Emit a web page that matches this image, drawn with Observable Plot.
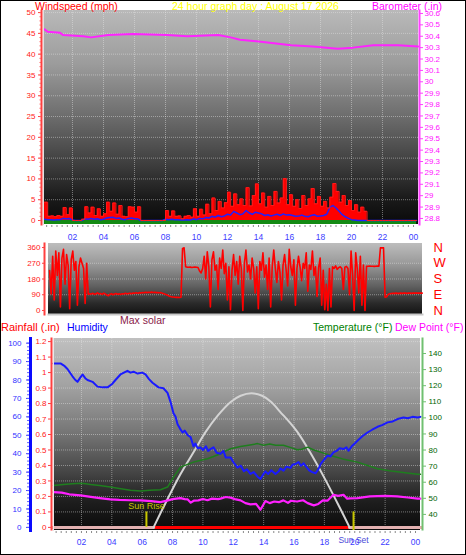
<!DOCTYPE html>
<html><head><meta charset="utf-8">
<script src="https://cdn.jsdelivr.net/npm/d3@7"></script>
<script src="https://cdn.jsdelivr.net/npm/@observablehq/plot@0.6"></script>
<style>
body{margin:0;background:#fff;}
#wrap{position:relative;width:466px;height:555px;overflow:hidden;font-family:"Liberation Sans",Arial,sans-serif;background:#fff;}
#border{position:absolute;left:0;top:0;width:464px;height:553px;border:1px solid #000;pointer-events:none;z-index:10;}
.lbl{position:absolute;white-space:nowrap;font-size:10.5px;line-height:12px;z-index:5;}
.panel{position:absolute;left:0;}
</style></head><body>
<div id="wrap">
  <div id="border"></div>
  <div class="lbl" style="left:35px;top:0px;color:#ff0000">Windspeed (mph)</div>
  <div class="lbl" style="left:172px;top:0px;color:#ffff00">24 hour graph day : August 17 2026</div>
  <div class="lbl" style="left:372px;top:0px;color:#ff00ff">Barometer (.in)</div>
  <div class="lbl" style="left:120px;top:314px;color:#8a1a4a">Max solar</div>
  <div class="lbl" style="left:1px;top:321px;color:#ff0000;font-size:11px">Rainfall (.in)</div>
  <div class="lbl" style="left:67px;top:321px;color:#0000ff">Humidity</div>
  <div class="lbl" style="left:313px;top:321px;color:#008000">Temperature (°F)</div>
  <div class="lbl" style="left:395px;top:321px;color:#ff00ff">Dew Point (°F)</div>
  <div id="p1" class="panel" style="top:0px"></div>
  <div id="p2" class="panel" style="top:240px"></div>
  <div id="p3" class="panel" style="top:318px"></div>
</div>
<script>
// ---------------- DATA ----------------
// Top panel: wind (mph), sampled every 0.2 h starting at 00:12
const windStart = 0.2, windStep = 0.2;
const windGust = [
  4.4,1.0,1.1,0.9,1.2,1.0,3.1,1.4,3.0,0,
  0,0,0.3,3.3,1.8,3.2,1.2,2.8,1.0,1.6,
  4.4,2.2,4.2,1.5,3.6,1.0,0.9,3.3,3.2,2.0,
  3.3,0,0,0,0,0,0,0,0,2.4,
  1.0,2.3,1.0,1.1,0.4,1.0,1.2,0.8,2.8,1.0,
  2.7,1.3,3.9,1.6,5.4,2.4,4.6,3.0,4.3,6.8,
  3.4,6.4,3.8,5.2,3.6,7.9,3.5,6.0,8.8,4.0,
  6.6,3.2,5.8,3.6,7.0,4.2,5.4,10.1,3.8,6.2,
  3.4,5.0,2.9,6.0,3.6,5.2,7.7,4.0,5.8,3.4,
  4.6,3.0,5.6,8.9,7.0,4.4,6.0,3.6,4.8,2.4,
  3.8,2.0,3.2,2.2,0,0,0,0,0,0,
  0,0,0,0,0,0,0,0,0,0,
  0
];
const windAvg = [
  0.3,0.2,0.2,0.1,0.2,0.2,0.5,0.4,0.5,0.1,
  0,0,0,0.4,0.3,0.5,0.3,0.4,0.2,0.3,
  0.6,0.7,0.8,0.5,0.6,0.3,0.2,0.5,0.6,0.4,
  0.4,0,0,0,0,0,0,0,0,0.3,
  0.2,0.3,0.2,0.2,0.1,0.1,0.2,0.1,0.4,0.2,
  0.5,0.4,0.7,0.6,1.0,0.8,1.2,0.9,1.1,1.5,
  1.3,2.2,1.8,1.4,1.6,2.4,1.8,1.5,2.0,1.8,
  1.6,1.2,1.4,1.1,1.3,1.5,1.2,1.6,1.3,1.4,
  1.2,1.0,1.1,1.3,1.0,0.9,1.2,1.4,1.0,1.1,
  1.2,1.5,3.2,3.6,3.0,2.2,1.4,0.9,0.5,0.2,
  0.1,0,0,0,0,0,0,0,0,0,
  0,0,0,0,0,0,0,0,0,0,
  0
];
const windGreen = [
  0.3,0,0,0,0,0,0,0,0,0,
  0,0,0,0,0,0,0,0,0,0,
  0.2,0,0,0,0,0,0,0,0,0,
  0,0,0,0,0,0,0,0,0,0,
  0,0,0,0,0,0,0,0,0,0,
  0,0,0,0,0.5,0,0.3,0,0.6,0.8,
  0.3,1.0,0,2.4,0.5,0.8,2.9,0.4,1.5,0.6,
  0.4,0.8,0.2,1.2,0.3,0.6,0.2,1.0,2.0,0.5,
  0.3,0.8,0.2,1.6,2.2,0.4,0.8,0.3,0.5,1.2,
  0.4,0.6,3.0,2.0,0.8,0.3,0.4,0,0,0,
  0,0,0,0,0,0,0,0,0,0,
  0,0,0,0,0,0,0,0,0,0,
  0
];
// Barometer (in)
const baroHours = [0.2,0.4,1.2,1.4,2.7,3.2,4.3,5.9,8.1,9.4,11.4,12.2,12.8,14.3,16.1,17.5,19.1,20.1,21.4,23.0,24.3];
const baroValues = [30.46,30.44,30.43,30.41,30.40,30.39,30.41,30.42,30.41,30.40,30.41,30.39,30.37,30.35,30.32,30.31,30.29,30.30,30.32,30.32,30.31];
const windTicks = [0,5,10,15,20,25,30,35,40,45,50];
const baroTicks = [28.8,28.9,29.0,29.1,29.2,29.3,29.4,29.5,29.6,29.7,29.8,29.9,30.0,30.1,30.2,30.3,30.4,30.5,30.6];

// Middle panel: wind direction (degrees), every 0.1 h from 00:12
const dirStart = 0.2, dirStep = 0.1;
const windDir = [
  228,95,310,60,340,200,330,20,300,350,150,320,260,10,290,340,230,280,30,250,300,270,240,40,270,
  92,96,94,98,93,95,101,94,97,92,
  99,95,88,84,92,96,90,94,97,93,
  95,92,96,94,98,95,97,99,96,100,
  98,101,99,102,100,103,101,104,102,104,
  103,105,103,104,102,103,101,102,98,96,
  92,88,84,80,
  78,77,76,75,76,74,76,
  355,358,
  250,248,247,248,246,247,248,247,246,
  226,
  215,240,310,180,335,250,20,290,335,230,
  260,120,300,240,345,210,270,60,250,5,
  230,320,200,280,150,310,240,0,270,345,
  220,260,180,300,240,100,250,10,280,230,
  330,190,260,120,300,20,250,345,240,160,
  280,220,60,260,320,230,140,350,250,200,
  290,30,240,310,250,170,270,240,330,110,
  260,235,340,200,250,80,245,300,30,230,
  5,150,0,240,20,250,240,255,235,245,
  250,240,120,248,252,240,90,340,200,0,
  330,240,100,310,30,260,0,
  252,253,254,253,253,252,253,254,253,
  358,359,358,
  76,
  78,92,96,97,98,98,99,98,98,99,98,99,99,98,99,99,98,99,99,100,99,99,100,99
];
const dirTicks = [0,90,180,270,360];
const dirLetters = ["N","E","S","W","N"];

// Bottom panel
const humHours = [0.16,0.62,0.9,1.08,1.41,1.6,1.74,1.9,2.07,2.25,2.4,2.73,3.06,3.4,3.72,4.04,4.24,4.57,4.8,5.03,5.23,5.43,5.7,6.0,6.22,6.45,6.68,7.08,7.4,7.67,7.87,8.06,8.2,8.33,8.5,8.66,8.8,9.0,9.19,9.38,9.5,9.65,9.84,10.0,10.2,10.35,10.5,10.7,10.9,11.16,11.35,11.5,11.82,12.0,12.28,12.5,12.7,12.9,13.13,13.35,13.6,13.79,13.95,14.12,14.3,14.5,14.78,15.0,15.1,15.31,15.5,15.77,15.9,16.1,16.3,16.45,16.63,16.8,17.0,17.2,17.42,17.6,17.75,17.9,18.05,18.21,18.4,18.6,18.8,19.0,19.26,19.45,19.59,19.8,20.0,20.18,20.5,20.84,21.15,21.5,21.8,22.16,22.5,22.82,23.21,23.5,23.8,24.14,24.33];
const humidity = [89,89,87.5,86,82,80,79,81,83,81,80,79,76.4,76,76,78,80,83,84,85,84,84.5,83.5,84,83,80.5,78.5,76,75.5,73,68,62,60,56,53.5,51.5,52.5,50,49,44,45.5,43,43.4,42,44,41.5,42.5,43.5,40.5,40,41.5,38,38,35.5,32.5,33.5,30.5,31.5,29,30,27.5,26.3,28.5,30.4,29,31,29,30.5,32,30.8,33,32.3,34,34.4,35.5,33.5,34.8,33,31,30,29.4,31.5,34.4,36,37.5,39,38.5,40.7,41.5,43,42.5,43.5,41.6,44,45.5,47,49.5,51.5,53,54.6,55.5,57,57.5,58.8,59.6,59.2,60,59.6,60];
const tempHours = [0.16,0.8,1.4,1.94,2.3,2.6,3.2,3.9,4.6,5.23,5.89,6.5,7.2,7.67,8.06,8.52,8.9,9.38,9.8,10.3,10.7,11.16,11.5,11.82,12.48,13.0,13.6,14.0,14.4,14.8,15.3,15.8,16.2,16.5,16.9,17.3,17.75,18.4,19.2,20.18,20.8,21.5,22.4,23.2,24.14,24.33];
const temperature = [58,58.6,59,59.4,59,58.6,58,57,56,55,54.5,55,55.3,57,63,69.4,70.8,72.5,73.5,74.6,76,77.7,79.5,80.8,82.2,83,84,83,83.8,83,83,81.5,80.2,80.5,81.8,80,78.7,76.6,74.5,72.5,70.5,68.4,67,66,65,65];
const dewHours = [0.16,0.7,1.2,1.94,2.5,3.2,3.9,4.5,5.2,5.89,6.6,7.2,7.7,8.0,8.52,8.8,9.0,9.2,9.4,9.7,10.0,10.3,10.6,11.0,11.16,11.5,11.82,12.1,12.48,12.8,13.13,13.5,13.79,14.12,14.4,14.7,15.0,15.3,15.6,15.8,16.2,16.6,16.9,17.3,17.6,17.9,18.2,18.6,18.9,19.26,19.5,19.7,20.18,21.0,22.0,22.8,23.5,24.14,24.33];
const dewPoint = [53.9,53.5,52.5,51.8,51,50.1,49.3,49,48.8,48.7,48.3,47.6,48.7,49.5,50.1,49.5,49.3,47.3,48.5,48.7,49.6,48.8,49.8,49.5,49.8,50.8,50.4,49.5,48.7,47,46.2,46.5,42.9,48.3,47,48,47.6,48.7,47.2,48.5,48,48.8,47,45.6,46.5,48.7,48.5,52.2,51.5,52.2,49.8,50,50.1,51.2,51.5,51.2,50.5,49.8,49.8];
const solarHours = [0.16,6.75,7.5,8.5,9.5,10.17,11.0,11.83,12.48,13.2,13.9,14.5,15.1,15.7,16.23,17.0,18.0,19.0,19.66,24.33];
const maxSolar = [0,0,150,340,505,615,725,810,850,866,850,810,745,680,615,495,320,130,0,0];
const rainHours = [0.16,24.33];
const rainfall = [0,0];
const sunRiseHour = 6.28, sunSetHour = 19.92;
const rainTicks = [0,0.1,0.2,0.3,0.4,0.5,0.6,0.7,0.8,0.9,1.0,1.1,1.2];
const humTicks = [0,10,20,30,40,50,60,70,80,90,100];
const tempTicks = [40,50,60,70,80,90,100,110,120,130,140];
const hourTicks = [2,4,6,8,10,12,14,16,18,20,22,24];

// ---------------- HELPERS ----------------
const FONT = "'Liberation Sans', Arial, sans-serif";
const baseStyle = {background:"transparent", fontFamily:FONT, fontSize:"8px", overflow:"visible"};
function bg(id, stops){
  return (index, scales, values, dims) => {
    const {width, height, marginTop, marginRight, marginBottom, marginLeft} = dims;
    const g = d3.create("svg:g");
    const lg = g.append("defs").append("linearGradient").attr("id", id)
      .attr("x1",0).attr("y1",0).attr("x2",0).attr("y2",1);
    stops.forEach(([o,c]) => lg.append("stop").attr("offset", o).attr("stop-color", c));
    g.append("rect").attr("x", marginLeft).attr("y", marginTop)
      .attr("width", width - marginLeft - marginRight)
      .attr("height", height - marginTop - marginBottom)
      .attr("fill", `url(#${id})`);
    return g.node();
  };
}
const gridStyle = {stroke:"#e8e8e8", strokeOpacity:0.45, strokeDasharray:"1,1"};
const fmtNum = v => String(+(+v).toFixed(1));
const hourFmt = d => String(Math.round(d) % 24).padStart(2,"0");
const minorHours = d3.range(1, 73).map(i => i/3);

// ---------------- TOP PANEL ----------------
const windRows = windGust.map((g,i) => ({h: windStart + windStep*i, gust:g, avg:windAvg[i], green:windGreen[i]}));
const baroRows = baroHours.map((h,i) => ({h, v: baroValues[i]}));
const yTopMin = -0.96, yTopMax = 50.5;
const baroToWind = d3.scaleLinear([28.747, 30.626], [yTopMin, yTopMax]);

const p1 = Plot.plot({
  width:466, height:245, marginTop:10, marginBottom:21, marginLeft:43, marginRight:48,
  style: baseStyle,
  x:{domain:[0.13,24.32], axis:null, label:null},
  y:{domain:[yTopMin,yTopMax], axis:null, label:null},
  marks:[
    bg("gTop", [[0,"#b9b9b9"],[0.25,"#9c9c9c"],[0.5,"#6c6c6c"],[0.72,"#3e3e3e"],[0.88,"#1a1a1a"],[1,"#0a0a0a"]]),
    Plot.gridX(hourTicks.slice(0,-1), gridStyle),
    Plot.gridY(windTicks.slice(1), gridStyle),
    Plot.areaY(windRows, {x:"h", y1:yTopMin, y2:"green", fill:"#138a13", curve:"step-after"}),
    Plot.areaY(windRows, {x:"h", y1:0, y2:"gust", fill:"#ff0000", curve:"step-after"}),
    Plot.lineY(windRows, {x:"h", y:"avg", stroke:"#2020ff", strokeWidth:1.5}),
    Plot.lineY(windRows, {x:"h", y:"gust", stroke:"#ff1a1a", strokeWidth:1, curve:"step-after"}),
    Plot.lineY(baroRows, {x:"h", y:d => baroToWind(d.v), stroke:"#ff22ff", strokeWidth:2}),
    Plot.frame({anchor:"left", stroke:"#e0e0e0"}),
    Plot.frame({anchor:"left", stroke:"#ff4040", strokeWidth:2, strokeDasharray:"2,1", dx:-2}),
    Plot.frame({anchor:"right", stroke:"#ff40ff", strokeWidth:2, strokeDasharray:"2,1", dx:1}),
    Plot.axisY({ticks:windTicks, tickSize:3, tickPadding:3, dx:-2, stroke:"#ff4040", fill:"#ff2020", label:null, tickFormat:d=>String(d), fontSize:8}),
    Plot.axisY({ticks:d3.range(0,51,1), tickSize:1.5, dx:-2, stroke:"#ff6060", fill:"none", label:null}),
    Plot.axisY({anchor:"right", ticks:baroTicks.map(baroToWind), tickSize:3, tickPadding:2, dx:1, stroke:"#ff40ff", fill:"#ff10ff", label:null, tickFormat:d => fmtNum(baroToWind.invert(d)), fontSize:8}),
    Plot.axisX({ticks:minorHours, tickSize:2, stroke:"#8a8a8a", fill:"none", label:null, dy:1}),
    Plot.axisX({ticks:hourTicks, tickSize:0, tickPadding:9, stroke:"none", fill:"#3c3cff", label:null, tickFormat:hourFmt, fontSize:8.5})
  ]
});
document.getElementById("p1").appendChild(p1);

// ---------------- MIDDLE PANEL ----------------
const dirRows = windDir.map((v,i) => ({h: dirStart + dirStep*i, v}));
const p2 = Plot.plot({
  width:466, height:80, marginTop:3, marginBottom:6, marginLeft:48, marginRight:44,
  style: baseStyle,
  x:{domain:[0.13,24.32], axis:null, label:null},
  y:{domain:[-23,383], axis:null, label:null},
  marks:[
    bg("gMid", [[0,"#bdbdbd"],[0.3,"#989898"],[0.6,"#626262"],[0.85,"#2a2a2a"],[1,"#141414"]]),
    Plot.gridY([90,180,270], gridStyle),
    Plot.lineY(dirRows, {x:"h", y:"v", stroke:"#ff0000", strokeWidth:1.6}),
    Plot.frame({anchor:"bottom", stroke:"#c8c8c8", strokeWidth:2}),
    Plot.frame({anchor:"left", stroke:"#ff4040", strokeWidth:2, strokeDasharray:"2,1", dx:-4}),
    Plot.axisY({ticks:dirTicks, tickSize:2, tickPadding:2, dx:-4, stroke:"#ff4040", fill:"#ff2020", label:null, tickFormat:d=>String(d), fontSize:8}),
    Plot.axisY({anchor:"right", ticks:dirTicks, tickSize:0, tickPadding:11, stroke:"none", fill:"#ff0000", label:null, tickFormat:d=>dirLetters[dirTicks.indexOf(d)], fontSize:13})
  ]
});
document.getElementById("p2").appendChild(p2);

// ---------------- BOTTOM PANEL ----------------
const humToRain = d3.scaleLinear([0,100],[0,1.19]);
const tempToRain = d3.scaleLinear([40,140],[0.084,1.123]);
const solarToRain = d3.scaleLinear([0,1000],[0,1]);
const humRows = humHours.map((h,i) => ({h, v: humidity[i]}));
const tempRows = tempHours.map((h,i) => ({h, v: temperature[i]}));
const dewRows = dewHours.map((h,i) => ({h, v: dewPoint[i]}));
const solarRows = solarHours.map((h,i) => ({h, v: maxSolar[i]}));
const solarArc = solarRows.filter(d => d.h >= 6.75 && d.h <= 19.66);
const solarNight = solarRows.filter(d => d.v === 0);
const rainRows = rainHours.map((h,i) => ({h, v: rainfall[i]}));
const yBotMin = -0.02, yBotMax = 1.22;

const p3 = Plot.plot({
  width:466, height:237, marginTop:20, marginBottom:25, marginLeft:53, marginRight:46,
  style: baseStyle,
  x:{domain:[0.16,24.33], axis:null, label:null},
  y:{domain:[yBotMin,yBotMax], axis:null, label:null},
  marks:[
    bg("gBot", [[0,"#c0c0c0"],[0.25,"#a2a2a2"],[0.5,"#747474"],[0.7,"#454545"],[0.85,"#1e1e1e"],[1,"#0a0a0a"]]),
    Plot.gridX(hourTicks.slice(0,-1), gridStyle),
    Plot.gridY(rainTicks.slice(1), gridStyle),
    Plot.lineY(rainRows, {x:"h", y:"v", stroke:"#ff0000", strokeWidth:3}),
    Plot.lineY(solarNight, {x:"h", y:d => solarToRain(d.v), z:d => d.h < 12 ? "am" : "pm", stroke:"#e2b0b0", strokeWidth:3}),
    Plot.lineY(solarArc, {x:"h", y:d => solarToRain(d.v), stroke:"#d4d4d4", strokeWidth:2, curve:"catmull-rom"}),
    Plot.lineY(tempRows, {x:"h", y:d => tempToRain(d.v), stroke:"#1e7e1e", strokeWidth:1.5}),
    Plot.lineY(dewRows, {x:"h", y:d => tempToRain(d.v), stroke:"#ff20ff", strokeWidth:2.2}),
    Plot.lineY(humRows, {x:"h", y:d => humToRain(d.v), stroke:"#1a1aff", strokeWidth:2}),
    Plot.ruleX([sunRiseHour], {y1:0, y2:0.1, stroke:"#c8c800", strokeWidth:2}),
    Plot.ruleX([sunSetHour], {y1:yBotMin, y2:0.1, stroke:"#c8c800", strokeWidth:2}),
    Plot.text([sunRiseHour], {x:d=>d, text:()=>"Sun Rise", frameAnchor:"bottom", dy:-22, fill:"#c8c800", fontSize:9}),
    Plot.text([sunSetHour], {x:d=>d, text:()=>"Sun Set", frameAnchor:"bottom", dy:12, fill:"#4a4ad8", fontSize:8.5}),
    Plot.frame({anchor:"left", stroke:"#e8e8e8"}),
    Plot.frame({anchor:"left", stroke:"#ff4040", strokeWidth:2, strokeDasharray:"2,1", dx:-2}),
    Plot.frame({anchor:"left", stroke:"#0a0aff", strokeWidth:3, dx:-23}),
    Plot.frame({anchor:"right", stroke:"#70c070", strokeWidth:2, strokeDasharray:"2,1", dx:2}),
    Plot.axisY({ticks:rainTicks, tickSize:3, tickPadding:2, dx:-2, stroke:"#ff4040", fill:"#ff2020", label:null, tickFormat:fmtNum, fontSize:8}),
    Plot.axisY({ticks:humTicks.map(humToRain), tickSize:3, tickPadding:5, dx:-24, stroke:"#4040ff", fill:"#3030ff", label:null, tickFormat:d=>String(Math.round(humToRain.invert(d))), fontSize:8}),
    Plot.axisY({ticks:d3.range(0,101,2).map(humToRain), tickSize:2, dx:-24, stroke:"#6060ff", fill:"none", label:null}),
    Plot.axisY({anchor:"right", ticks:tempTicks.map(tempToRain), tickSize:3, tickPadding:3, dx:2, stroke:"#70c070", fill:"#006400", label:null, tickFormat:d=>String(Math.round(tempToRain.invert(d))), fontSize:8}),
    Plot.axisX({ticks:minorHours, tickSize:2, stroke:"#8a8a8a", fill:"none", label:null, dy:1}),
    Plot.axisX({ticks:hourTicks, tickSize:0, tickPadding:8, stroke:"none", fill:"#3c3cff", label:null, tickFormat:hourFmt, fontSize:8.5})
  ]
});
document.getElementById("p3").appendChild(p3);
</script>
</body></html>
